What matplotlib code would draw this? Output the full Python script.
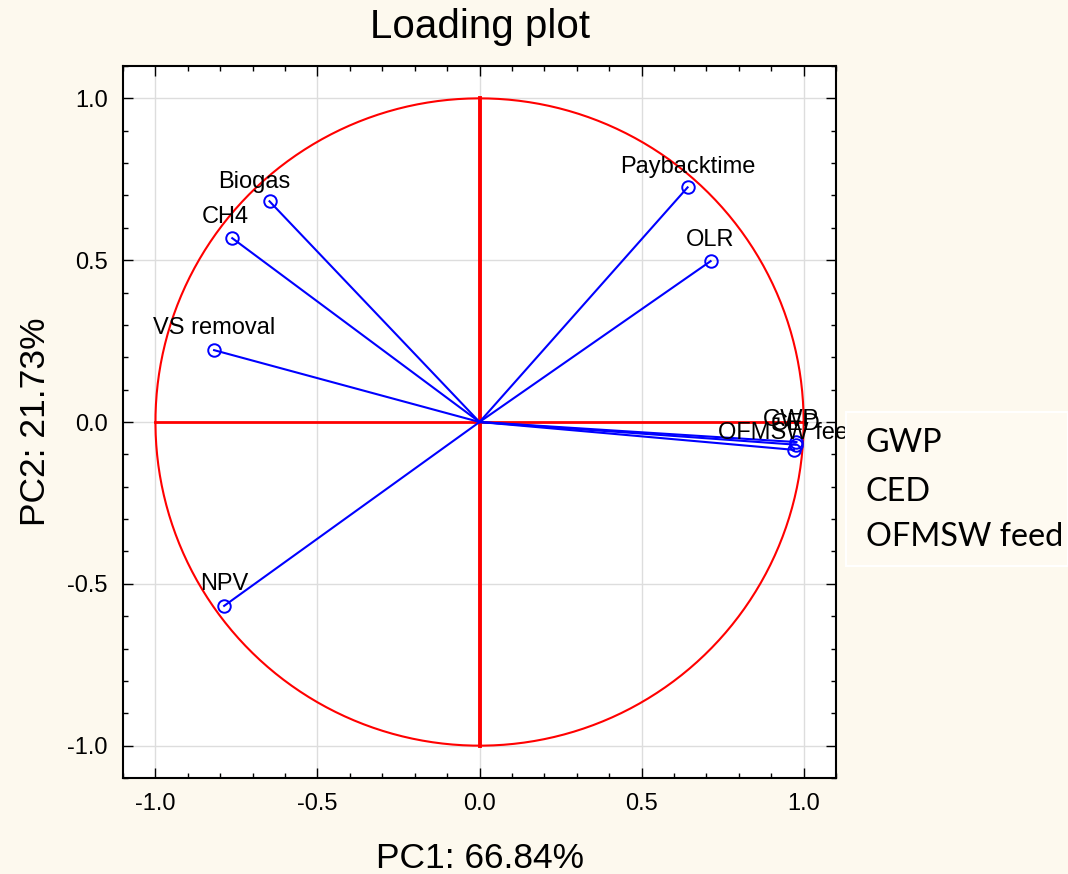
import numpy as np
import matplotlib
matplotlib.use("Agg")
import matplotlib.pyplot as plt
from matplotlib.ticker import MultipleLocator

# ---- data ----
variables = ["Biogas", "CH4", "VS removal", "NPV", "Paybacktime", "OLR",
             "GWP", "CED", "OFMSW feed"]
pc1 = [-0.648, -0.763, -0.819, -0.788, 0.642, 0.713, 0.978, 0.975, 0.970]
pc2 = [0.682, 0.568, 0.222, -0.568, 0.725, 0.497, -0.062, -0.070, -0.086]
pc1_label = "PC1: 66.84%"
pc2_label = "PC2: 21.73%"
title = "Loading plot"
box_lines = ["GWP", "CED", "OFMSW feed"]

# label offsets (points) - styling only
label_offsets = {"Biogas": (-11, 14), "CH4": (-5, 15), "VS removal": (0, 16),
                 "NPV": (0, 16), "Paybacktime": (0, 15), "OLR": (0, 15),
                 "GWP": (-4, 16), "CED": (0, 15), "OFMSW feed": (-3, 12)}

bg = "#FDF9EE"
plt.rcParams['font.family'] = ['Liberation Sans', 'DejaVu Sans']

fig = plt.figure(figsize=(10.68, 8.74), dpi=100, facecolor=bg)
ax = fig.add_axes([0.1152, 0.1098, 0.6676, 0.8147])
ax.set_facecolor("white")
ax.set_xlim(-1.1, 1.1)
ax.set_ylim(-1.1, 1.1)

ax.xaxis.set_major_locator(MultipleLocator(0.5))
ax.yaxis.set_major_locator(MultipleLocator(0.5))
ax.xaxis.set_minor_locator(MultipleLocator(0.1))
ax.yaxis.set_minor_locator(MultipleLocator(0.1))
ax.xaxis.set_major_formatter(matplotlib.ticker.FormatStrFormatter('%.1f'))
ax.yaxis.set_major_formatter(matplotlib.ticker.FormatStrFormatter('%.1f'))
ax.tick_params(which='both', direction='in', top=True, right=True,
               labelsize=17, width=1.0, colors='black')
ax.tick_params(which='major', length=7, pad=11)
ax.tick_params(which='minor', length=3.5)
ax.grid(True, which='major', color='#DDDDDD', lw=1.0, zorder=0)
for s in ax.spines.values():
    s.set_linewidth(1.5)
    s.set_color('black')

# unit circle and axes
t = np.linspace(0, 2 * np.pi, 400)
ax.plot(np.cos(t), np.sin(t), color='red', lw=1.5, zorder=2)
ax.plot([-1, 1], [0, 0], color='red', lw=2.0, zorder=2)
ax.plot([0, 0], [-1, 1], color='red', lw=2.8, zorder=2)

# vectors
for name, x, y in zip(variables, pc1, pc2):
    ax.plot([0, x], [0, y], color='blue', lw=1.5, zorder=3)
    ax.plot([x], [y], marker='o', mfc='none', mec='blue', ms=9, mew=1.4,
            zorder=4)
    dx, dy = label_offsets[name]
    ax.annotate(name, (x, y), xytext=(dx, dy), textcoords='offset points',
                ha='center', va='center', fontsize=17, color='black',
                annotation_clip=False, zorder=5)

ax.set_title(title, fontsize=29, pad=20)
ax.set_xlabel(pc1_label, fontsize=25.5, labelpad=19)
ax.set_ylabel(pc2_label, fontsize=25.5, labelpad=11)

# overlay box
box_ax = fig.add_axes([846 / 1068, 1 - 566 / 874, 222 / 1068, 154 / 874])
box_ax.set_facecolor('#FEFAF1')
box_ax.set_xticks([])
box_ax.set_yticks([])
for s in box_ax.spines.values():
    s.set_color('#FFFFFF')
    s.set_linewidth(1.5)
box_ax.set_xlim(0, 1)
box_ax.set_ylim(0, 1)
ys = [0.80, 0.48, 0.19]
for txt, yy in zip(box_lines, ys):
    box_ax.text(0.09, yy, txt, fontsize=23.3, family=['Lato', 'DejaVu Sans'],
                va='center', ha='left', color='black')

fig.savefig("out.png", dpi=100, facecolor=bg)
